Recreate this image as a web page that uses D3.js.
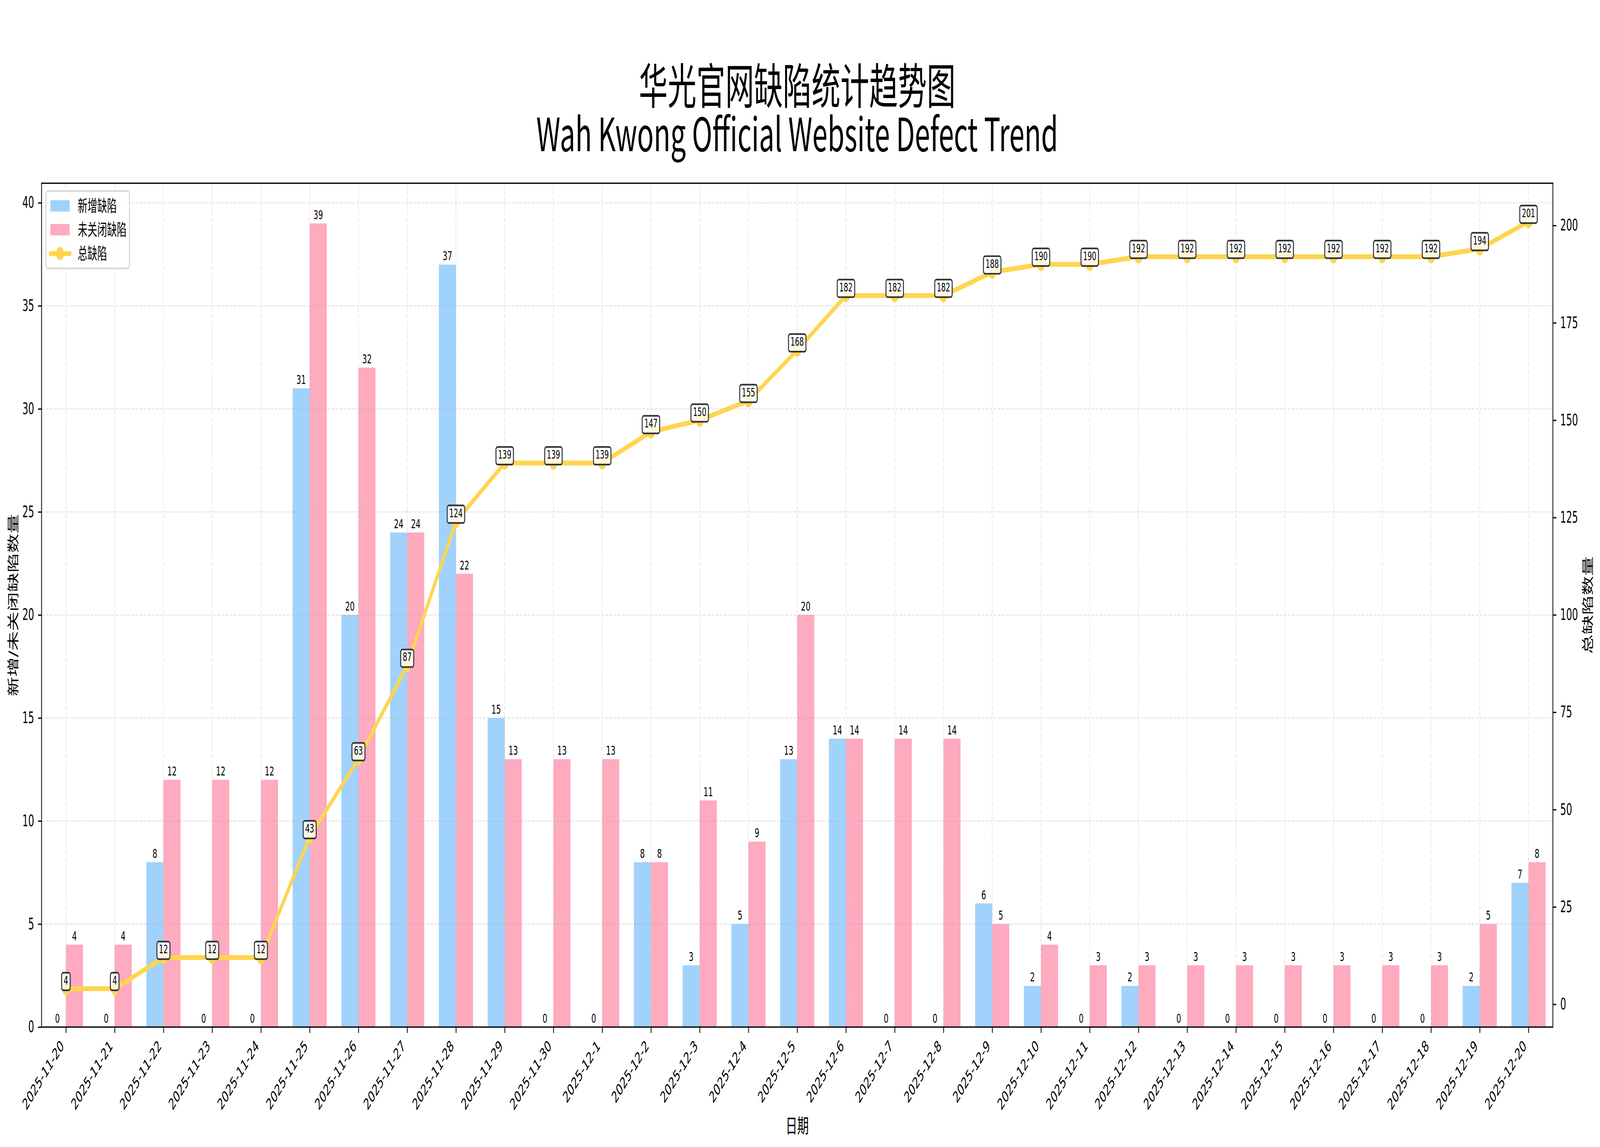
<!DOCTYPE html>
<html>
<head>
<meta charset="utf-8">
<script src="https://cdn.jsdelivr.net/npm/d3@7"></script>
<style>
  html, body { margin: 0; padding: 0; background: #fff; overflow: hidden; width: 100%; height: 100%; }
  svg { display: block; width: 100vw; height: 100vh; }
</style>
</head>
<body>
<svg id="chart" viewBox="0 0 6892 2936" preserveAspectRatio="none"></svg>
<script>
// ---------------- DATA ----------------
const dates = ["2025-11-20","2025-11-21","2025-11-22","2025-11-23","2025-11-24","2025-11-25","2025-11-26","2025-11-27","2025-11-28","2025-11-29","2025-11-30",
  "2025-12-1","2025-12-2","2025-12-3","2025-12-4","2025-12-5","2025-12-6","2025-12-7","2025-12-8","2025-12-9","2025-12-10",
  "2025-12-11","2025-12-12","2025-12-13","2025-12-14","2025-12-15","2025-12-16","2025-12-17","2025-12-18","2025-12-19","2025-12-20"];
const newDefects  = [0,0,8,0,0,31,20,24,37,15,0,0,8,3,5,13,14,0,0,6,2,0,2,0,0,0,0,0,0,2,7];
const openDefects = [4,4,12,12,12,39,32,24,22,13,13,13,8,11,9,20,14,14,14,5,4,3,3,3,3,3,3,3,3,5,8];
const totalDefects = [4,4,12,12,12,43,63,87,124,139,139,139,147,150,155,168,182,182,182,188,190,190,192,192,192,192,192,192,192,194,201];
const leftTicks = [0,5,10,15,20,25,30,35,40];
const rightTicks = [0,25,50,75,100,125,150,175,200];
const titleZh = "华光官网缺陷统计趋势图";
const titleEn = "Wah Kwong Official Website Defect Trend";
const seriesNames = ["新增缺陷","未关闭缺陷","总缺陷"];
const xLabel = "日期";
const yLeftLabel = "新增/未关闭缺陷数量";
const yRightLabel = "总缺陷数量";

// ---------------- STYLE ----------------
const C_BLUE = "#A0D2FC", C_PINK = "#FEAABF", C_LINE = "#FFD54F";
const NUM_FONT = "DejaVu Sans, Noto Sans CJK SC, sans-serif";
const CJK_FONT = "Noto Sans CJK SC, DejaVu Sans, sans-serif";
const L = 179, R = 6689, T = 469, B = 2629;
const barW = 0.35;

const svg = d3.select("#chart");

const n = dates.length;
const x = d3.scaleLinear().domain([-0.5, n - 0.5]).range([L, R]);
const yL = d3.scaleLinear().domain([0, d3.max(openDefects.concat(newDefects)) * 1.05]).range([B, T]);
const tMin = d3.min(totalDefects), tMax = d3.max(totalDefects), tPad = (tMax - tMin) * 0.05;
const yR = d3.scaleLinear().domain([tMin - tPad, tMax + tPad]).range([B, T]);

// clip
svg.append("defs").append("clipPath").attr("id","plotclip")
  .append("rect").attr("x",L).attr("y",T).attr("width",R-L).attr("height",B-T);

const plot = svg.append("g").attr("clip-path","url(#plotclip)");

// bars
plot.append("g").selectAll("rect.new").data(newDefects).join("rect")
  .attr("x",(d,i)=>x(i-barW)).attr("width",(d,i)=>x(i)-x(i-barW))
  .attr("y",d=>yL(d)).attr("height",d=>yL(0)-yL(d)).attr("fill",C_BLUE);
plot.append("g").selectAll("rect.open").data(openDefects).join("rect")
  .attr("x",(d,i)=>x(i)).attr("width",(d,i)=>x(i+barW)-x(i))
  .attr("y",d=>yL(d)).attr("height",d=>yL(0)-yL(d)).attr("fill",C_PINK);

// grid (above bars, matplotlib default)
const grid = plot.append("g").attr("stroke","#b0b0b0").attr("stroke-opacity",0.3)
  .attr("stroke-width",3.3).attr("stroke-dasharray","12.3,5.3");
grid.selectAll("line.v").data(d3.range(n)).join("line")
  .attr("x1",d=>x(d)).attr("x2",d=>x(d)).attr("y1",T).attr("y2",B);
grid.selectAll("line.h").data(leftTicks).join("line")
  .attr("x1",L).attr("x2",R).attr("y1",d=>yL(d)).attr("y2",d=>yL(d));

// bar labels
const blab = svg.append("g").attr("font-family",NUM_FONT).attr("font-size",32)
  .attr("text-anchor","middle").attr("fill","#000");
blab.selectAll("text.n").data(newDefects).join("text")
  .attr("x",(d,i)=>x(i-barW/2)).attr("y",d=>yL(d)-11).text(d=>d);
blab.selectAll("text.o").data(openDefects).join("text")
  .attr("x",(d,i)=>x(i+barW/2)).attr("y",d=>yL(d)-11).text(d=>d);

// line + markers
const lineGen = d3.line().x((d,i)=>x(i)).y(d=>yR(d)).curve(d3.curveLinear);
svg.append("path").datum(totalDefects).attr("d",lineGen)
  .attr("fill","none").attr("stroke",C_LINE).attr("stroke-width",12.5)
  .attr("stroke-linejoin","round");
svg.append("g").selectAll("circle").data(totalDefects).join("circle")
  .attr("cx",(d,i)=>x(i)).attr("cy",d=>yR(d)).attr("r",17).attr("fill",C_LINE);

// boxed labels on the line
const bx = svg.append("g").attr("font-family",NUM_FONT).attr("font-size",30);
totalDefects.forEach((d,i)=>{
  const cx = x(i), base = yR(d) - 11;
  const g = bx.append("g");
  const rect = g.append("rect");
  const t = g.append("text").attr("x",cx).attr("y",base).attr("text-anchor","middle").attr("fill","#000").text(d);
  const w = t.node().getComputedTextLength();
  rect.attr("x",cx - w/2 - 9).attr("width",w + 18)
    .attr("y",base - 30).attr("height",45).attr("rx",7).attr("ry",7)
    .attr("fill","#fff").attr("fill-opacity",0.8)
    .attr("stroke","#333").attr("stroke-width",4.2);
});

// axes
const axL = svg.append("g").attr("transform",`translate(${L},0)`)
  .call(d3.axisLeft(yL).tickValues(leftTicks).tickSize(15).tickPadding(17).tickSizeOuter(0));
const axR = svg.append("g").attr("transform",`translate(${R},0)`)
  .call(d3.axisRight(yR).tickValues(rightTicks).tickSize(15).tickPadding(17).tickSizeOuter(0));
const axB = svg.append("g").attr("transform",`translate(0,${B})`)
  .call(d3.axisBottom(x).tickValues(d3.range(n)).tickFormat(i=>dates[i]).tickSize(15).tickSizeOuter(0));
[axL,axR,axB].forEach(a=>{
  a.selectAll(".domain").remove();
  a.selectAll(".tick line").attr("stroke","#000").attr("stroke-width",3.3);
  a.selectAll(".tick text").attr("font-family",NUM_FONT).attr("font-size",40).attr("fill","#000");
});
axB.selectAll(".tick text")
  .attr("text-anchor","end").attr("dy",null).attr("y",null)
  .attr("transform","translate(-6.7,50.5) rotate(-45)");

// frame
svg.append("rect").attr("x",L).attr("y",T).attr("width",R-L).attr("height",B-T)
  .attr("fill","none").attr("stroke","#000").attr("stroke-width",3.3);

// axis labels
svg.append("text").attr("x",(L+R)/2).attr("y",2900).attr("text-anchor","middle")
  .attr("font-family",CJK_FONT).attr("font-size",50).text(xLabel);
svg.append("text").attr("transform",`translate(74,${(T+B)/2}) rotate(-90)`).attr("text-anchor","middle")
  .attr("font-family",NUM_FONT).attr("font-size",50).text(yLeftLabel);
svg.append("text").attr("transform",`translate(6857,${(T+B)/2}) rotate(-90)`).attr("text-anchor","middle")
  .attr("font-family",NUM_FONT).attr("font-size",50).text(yRightLabel);

// title (one text element, two lines)
const title = svg.append("text").attr("text-anchor","middle").attr("font-family",CJK_FONT);
title.append("tspan").attr("x",(L+R)/2).attr("y",266).attr("font-size",124).text(titleZh);
title.append("tspan").attr("x",(L+R)/2).attr("y",387).attr("font-size",118).text(titleEn);

// legend
const lg = svg.append("g");
lg.append("rect").attr("x",198).attr("y",489).attr("width",360).attr("height",198)
  .attr("rx",9).attr("ry",9).attr("fill","#fff").attr("fill-opacity",0.8)
  .attr("stroke","#d6d6d6").attr("stroke-width",4.2);
const rows = [527,588,649];
lg.append("rect").attr("x",217).attr("y",rows[0]-14.5).attr("width",83).attr("height",29).attr("fill",C_BLUE);
lg.append("rect").attr("x",217).attr("y",rows[1]-14.5).attr("width",83).attr("height",29).attr("fill",C_PINK);
lg.append("line").attr("x1",211).attr("x2",307).attr("y1",rows[2]).attr("y2",rows[2])
  .attr("stroke",C_LINE).attr("stroke-width",12.5);
lg.append("circle").attr("cx",258).attr("cy",rows[2]).attr("r",17).attr("fill",C_LINE);
lg.selectAll("text").data(seriesNames).join("text")
  .attr("x",335).attr("y",(d,i)=>rows[i]).attr("dy","0.36em")
  .attr("font-family",CJK_FONT).attr("font-size",42).attr("fill","#000").text(d=>d);
</script>
</body>
</html>
